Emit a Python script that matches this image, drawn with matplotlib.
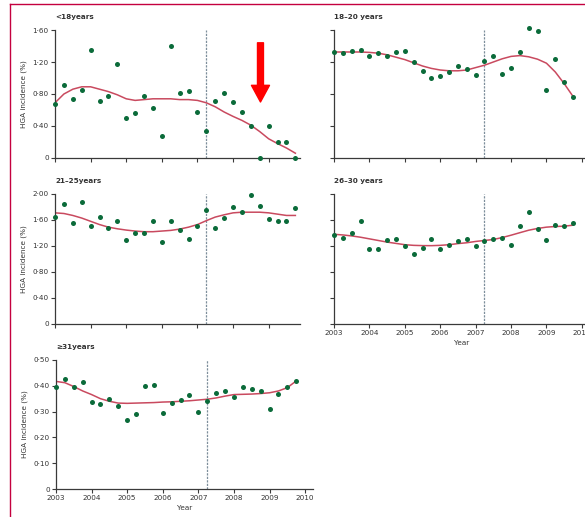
import matplotlib.pyplot as plt
from matplotlib.lines import Line2D

# quarterly time points, 2003 Q1 .. 2009 Q4
quarters = [2003 + i / 4 for i in range(28)]
intervention = 2007.25

# observed HGA incidence (%) per age group
lt18 = [0.68, 0.91, 0.74, 0.85, 1.35, 0.71, 0.78, 1.17, 0.50, 0.56, 0.78, 0.62, 0.27, 1.40,
        0.81, 0.84, 0.575, 0.34, 0.71, 0.81, 0.70, 0.57, 0.40, 0.0, 0.40, 0.20, 0.20, 0.0]
a18_20 = [1.325, 1.317, 1.34, 1.354, 1.28, 1.31, 1.275, 1.32, 1.34, 1.20, 1.09, 1.00, 1.02, 1.08,
          1.146, 1.11, 1.04, 1.21, 1.275, 1.05, 1.13, 1.33, 1.63, 1.59, 0.85, 1.24, 0.95, 0.76]
a21_25 = [1.64, 1.846, 1.56, 1.877, 1.51, 1.65, 1.475, 1.59, 1.29, 1.40, 1.40, 1.58, 1.265, 1.59,
          1.445, 1.30, 1.51, 1.76, 1.48, 1.63, 1.80, 1.72, 1.98, 1.81, 1.61, 1.59, 1.59, 1.78]
a26_30 = [1.376, 1.33, 1.407, 1.577, 1.15, 1.15, 1.29, 1.31, 1.20, 1.08, 1.165, 1.30, 1.15, 1.21,
          1.28, 1.31, 1.20, 1.27, 1.30, 1.33, 1.22, 1.51, 1.73, 1.46, 1.29, 1.53, 1.515, 1.557]
ge31 = [0.394, 0.426, 0.397, 0.413, 0.336, 0.331, 0.350, 0.323, 0.269, 0.291, 0.398, 0.402, 0.293, 0.332,
        0.345, 0.364, 0.300, 0.341, 0.371, 0.379, 0.357, 0.394, 0.386, 0.380, 0.310, 0.368, 0.397, 0.419]

# fitted trend curves
fit_lt18 = [0.69, 0.80, 0.86, 0.89, 0.89, 0.86, 0.83, 0.79, 0.74, 0.72, 0.73, 0.74, 0.74, 0.74,
            0.73, 0.73, 0.72, 0.69, 0.64, 0.575, 0.52, 0.47, 0.41, 0.33, 0.24, 0.18, 0.125, 0.06]
fit_18_20 = [1.325, 1.325, 1.325, 1.325, 1.32, 1.31, 1.29, 1.26, 1.23, 1.19, 1.15, 1.12, 1.10, 1.09,
             1.09, 1.10, 1.13, 1.16, 1.20, 1.24, 1.27, 1.28, 1.265, 1.235, 1.185, 1.075, 0.93, 0.77]
fit_21_25 = [1.71, 1.70, 1.67, 1.63, 1.58, 1.53, 1.49, 1.465, 1.445, 1.43, 1.42, 1.42, 1.43, 1.44,
             1.46, 1.49, 1.53, 1.59, 1.645, 1.68, 1.71, 1.72, 1.72, 1.72, 1.71, 1.69, 1.67, 1.67]
fit_26_30 = [1.38, 1.37, 1.355, 1.335, 1.31, 1.285, 1.26, 1.24, 1.22, 1.21, 1.206, 1.205, 1.21, 1.22,
             1.237, 1.25, 1.27, 1.285, 1.30, 1.33, 1.366, 1.405, 1.443, 1.47, 1.49, 1.50, 1.505, 1.52]
fit_ge31 = [0.417, 0.412, 0.397, 0.38, 0.366, 0.35, 0.34, 0.333, 0.332, 0.333, 0.334, 0.335, 0.337, 0.338,
            0.340, 0.342, 0.345, 0.348, 0.353, 0.36, 0.366, 0.367, 0.368, 0.37, 0.373, 0.38, 0.393, 0.419]

yticks_a = [0, 0.4, 0.8, 1.2, 1.6]
yticks_b = [0, 0.4, 0.8, 1.2, 1.6, 2.0]
yticks_c = [0, 0.1, 0.2, 0.3, 0.4, 0.5]
years = [2003, 2004, 2005, 2006, 2007, 2008, 2009, 2010]

dot_col = '#0b6b3a'
fit_col = '#c94a5f'
dash_col = '#7d8e9b'
spine_col = '#3a3a3a'
txt_col = '#333333'
fs = 5.2

fig = plt.figure(figsize=(5.85, 5.17), dpi=100)
W, H = 585, 517


def px_axes(x0, y_bottom, w, h):
    return fig.add_axes([x0 / W, (H - y_bottom) / H, w / W, h / H])


def fmt(v, dec):
    if v == 0:
        return '0'
    return f'{v:.{dec}f}'.replace('.', '·')


def panel(ax, title, obs, fit, yticks, ymax, dec, xmax, ylabels=True, xlabels=False, ylabel=False):
    ax.plot(quarters, fit, color=fit_col, lw=1.1, zorder=2)
    ax.scatter(quarters, obs, s=13, color=dot_col, zorder=3, clip_on=False, linewidths=0)
    ax.plot([intervention, intervention], [0, ymax], color=dash_col, lw=0.9,
            dashes=(1.8, 1.0), zorder=1)
    ax.set_xlim(2003, xmax)
    ax.set_ylim(0, ymax)
    for s in ['top', 'right']:
        ax.spines[s].set_visible(False)
    for s in ['left', 'bottom']:
        ax.spines[s].set_color(spine_col)
        ax.spines[s].set_linewidth(0.9)
    ax.set_yticks(yticks)
    ax.set_xticks([y for y in years if y <= xmax])
    ax.tick_params(direction='out', length=3, width=0.8, color=spine_col,
                   labelsize=fs, labelcolor=txt_col, pad=1.5)
    if ylabels:
        ax.set_yticklabels([fmt(v, dec) for v in yticks])
    else:
        ax.set_yticklabels([])
    if xlabels:
        ax.set_xticklabels([str(y) for y in years if y <= xmax])
        ax.set_xlabel('Year', fontsize=fs, color=txt_col, labelpad=3)
    else:
        ax.set_xticklabels([])
    if ylabel:
        ax.set_ylabel('HGA incidence (%)', fontsize=fs, color=txt_col, labelpad=4)
    ax.text(0, 1.08, title, transform=ax.transAxes, fontsize=fs, fontweight='bold',
            color=txt_col, ha='left', va='bottom')


ax1 = px_axes(55, 158, 245, 128)
ax2 = px_axes(334, 158, 256, 128)
ax3 = px_axes(55, 324, 245, 130)
ax4 = px_axes(334, 324, 256, 130)
ax5 = px_axes(56, 489, 257, 129)

panel(ax1, '<18years', lt18, fit_lt18, yticks_a, 1.6, 2, 2009.88, ylabel=True)
panel(ax2, '18–20 years', a18_20, fit_18_20, yticks_a, 1.6, 2, 2010.23, ylabels=False)
panel(ax3, '21–25years', a21_25, fit_21_25, yticks_b, 2.0, 2, 2009.88, ylabel=True)
panel(ax4, '26–30 years', a26_30, fit_26_30, yticks_b, 2.0, 2, 2010.23, ylabels=False, xlabels=True)
panel(ax5, '≥31years', ge31, fit_ge31, yticks_c, 0.5, 2, 2010.22, xlabels=True, ylabel=True)

# red arrow pointing at the drop in the youngest group
ax1.annotate('', xy=(2008.77, 0.70), xytext=(2008.77, 1.44),
             arrowprops=dict(width=4.3, headwidth=13, headlength=12, color='#ff0000', shrink=0),
             annotation_clip=False)

# crimson page frame
fig.add_artist(Line2D([10 / W, 1], [1 - 4 / H, 1 - 4 / H], color='#c4003f', lw=1.0))
fig.add_artist(Line2D([10 / W, 10 / W], [0, 1 - 4 / H], color='#c4003f', lw=1.0))

fig.savefig('out.png', dpi=100)
